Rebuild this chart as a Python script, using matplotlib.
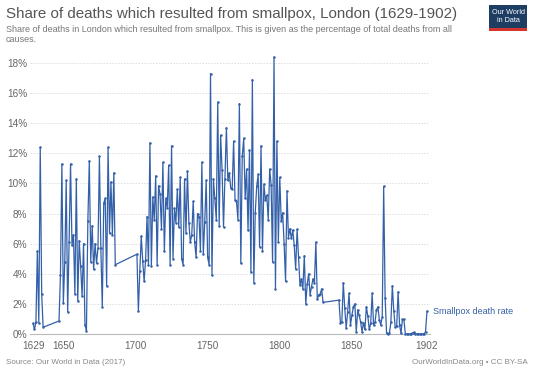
import matplotlib.pyplot as plt
from matplotlib.patches import Rectangle

plt.rcParams['font.family'] = ['Liberation Sans', 'DejaVu Sans']

# share of deaths from smallpox (%)
years_a = list(range(1629, 1637))
share_a = [0.7, 0.3, 0.8, 5.5, 0.75, 12.4, 2.65, 0.45]

years_b = list(range(1647, 1687))
share_b = [0.86, 3.9, 11.3, 2.05, 4.8, 10.2, 1.46, 6.1, 11.3, 5.9,
           6.6, 2.65, 10.3, 2.2, 6.2, 4.5, 2.5, 6.0, 0.6, 0.2,
           7.5, 11.5, 4.8, 7.2, 4.3, 6.0, 4.7, 5.7, 11.8, 5.7,
           1.8, 8.7, 9.0, 3.2, 12.4, 6.7, 10.1, 6.6, 10.7, 4.6]

years_c = list(range(1701, 1831))
share_c = [5.3, 1.5, 4.2, 6.5, 4.85, 3.5, 4.9, 7.8, 4.6, 12.7,
           4.5, 9.1, 7.6, 10.5, 4.6, 9.85, 9.3, 7.0, 11.4, 5.5,
           9.0, 8.4, 11.2, 4.6, 12.5, 5.0, 8.35, 7.4, 9.6, 7.1,
           10.4, 5.0, 4.6, 10.3, 6.7, 10.8, 7.4, 6.1, 6.6, 8.8,
           6.1, 5.1, 8.0, 7.8, 5.5, 11.4, 5.3, 7.45, 10.2, 5.1,
           4.6, 17.3, 3.9, 10.3, 9.0, 7.6, 15.4, 7.2, 13.2, 10.9,
           7.1, 10.3, 13.7, 10.2, 10.7, 9.7, 9.6, 12.8, 8.9, 8.8,
           7.6, 15.3, 4.7, 11.8, 13.0, 9.0, 10.95, 6.9, 12.2, 4.1,
           16.9, 3.4, 8.05, 9.8, 10.6, 5.8, 12.5, 5.5, 9.96, 8.9,
           9.2, 7.6, 10.95, 9.9, 4.8, 18.4, 3.0, 12.8, 6.1, 10.4,
           7.5, 8.05, 6.0, 3.5, 9.5, 6.4, 7.0, 6.35, 6.9, 5.9,
           4.3, 6.95, 5.1, 3.25, 3.65, 3.0, 5.2, 2.0, 3.3, 4.0,
           2.6, 3.15, 3.65, 3.4, 6.1, 2.3, 2.6, 2.65, 3.0, 2.1]

years_d = list(range(1841, 1903))
share_d = [2.25, 0.75, 0.8, 3.4, 1.75, 0.4, 1.45, 2.7, 0.6, 1.26,
           1.8, 2.0, 0.15, 1.6, 1.26, 0.8, 0.15, 0.75, 0.3, 1.8,
           1.2, 0.3, 0.7, 2.7, 0.6, 0.8, 1.6, 1.8, 0.93, 0.6,
           1.15, 9.8, 2.4, 0.05, 0.0, 0.05, 0.8, 3.2, 1.55, 0.45,
           0.5, 2.8, 0.6, 0.05, 0.97, 0.97, 0.0, 0.0, 0.0, 0.0,
           0.02, 0.08, 0.1, 0.03, 0.0, 0.0, 0.0, 0.0, 0.0, 0.0,
           0.15, 1.5]

years = years_a + years_b + years_c + years_d
share = share_a + share_b + share_c + share_d

yticks = [0, 2, 4, 6, 8, 10, 12, 14, 16, 18]
xticks = [1629, 1650, 1700, 1750, 1800, 1850, 1902]

blue = '#3360a9'
grey = '#666666'

W, H = 535, 377
fig = plt.figure(figsize=(W / 100, H / 100), dpi=100)
ax = fig.add_axes([30 / W, 1 - 334 / H, 400 / W, (334 - 58) / H])

ax.plot(years, share, '-o', color=blue, lw=0.9, ms=1.8, mew=0, clip_on=False, zorder=3)

ax.set_xlim(1626.9, 1904.1)
ax.set_ylim(0, 18.33)
ax.set_yticks(yticks)
ax.set_yticklabels([f'{v}%' for v in yticks])
ax.set_xticks(xticks)
ax.tick_params(axis='both', length=0, labelsize=7.2, colors=grey)
ax.tick_params(axis='y', pad=2)
ax.tick_params(axis='x', pad=5)
ax.grid(axis='y', color='#dddddd', ls=(0, (1.5, 1.5)), lw=0.7)
for s in ['top', 'right', 'left']:
    ax.spines[s].set_visible(False)
ax.spines['bottom'].set_color('#bbbbbb')
ax.spines['bottom'].set_linewidth(0.8)

ax.annotate('Smallpox death rate', xy=(years[-1], share[-1]), xytext=(4, 0),
            textcoords='offset points', color=blue, fontsize=6.5, va='center',
            annotation_clip=False)

fig.text(6 / W, 1 - 14 / H, 'Share of deaths which resulted from smallpox, London (1629-1902)',
         fontsize=10.9, color='#555555', va='center')
fig.text(6 / W, 1 - 29 / H,
         'Share of deaths in London which resulted from smallpox. This is given as the percentage of total deaths from all',
         fontsize=6.5, color='#777777', va='center')
fig.text(6 / W, 1 - 39 / H, 'causes.', fontsize=6.5, color='#777777', va='center')

fig.text(6 / W, 1 - 362 / H, 'Source: Our World in Data (2017)', fontsize=5.8, color='#888888', va='center')
fig.text(528 / W, 1 - 362 / H, 'OurWorldInData.org \u2022 CC BY-SA', fontsize=5.8, color='#888888',
         va='center', ha='right')

# logo
fig.patches.append(Rectangle((489 / W, 1 - 31 / H), 38 / W, 26 / H, transform=fig.transFigure,
                             facecolor='#1d3d63', edgecolor='none'))
fig.patches.append(Rectangle((489 / W, 1 - 31 / H), 38 / W, 3 / H, transform=fig.transFigure,
                             facecolor='#d2352b', edgecolor='none'))
fig.text(508 / W, 1 - 16.5 / H, 'Our World\nin Data', fontsize=5.2, color='white',
         ha='center', va='center', linespacing=1.0)

fig.savefig('out.png', dpi=100)
